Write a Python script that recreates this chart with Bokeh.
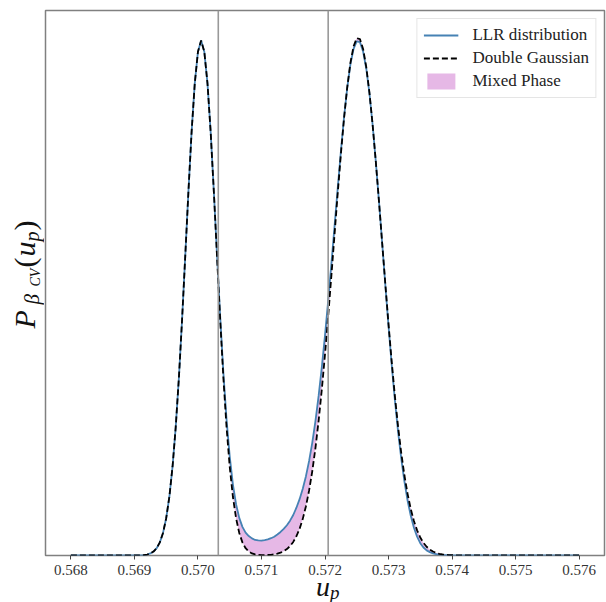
import math
from bokeh.plotting import figure
from bokeh.layouts import row, column
from bokeh.models import (Range1d, FixedTicker, Span, Label, Legend, LegendItem,
                          PrintfTickFormatter)
from bokeh.embed import file_html
from bokeh.resources import INLINE

# ---- data ----
u_p = [0.5680, 0.5685,
       0.56900, 0.56905, 0.56910, 0.56915, 0.56920, 0.56925, 0.56930, 0.56935, 0.56940, 0.56945,
       0.56950, 0.56955, 0.56960, 0.56965, 0.56970, 0.56975, 0.56980, 0.56985, 0.56990, 0.56995,
       0.57000, 0.57005, 0.57010, 0.57015, 0.57020, 0.57025, 0.57030, 0.57035, 0.57040, 0.57045,
       0.57050, 0.57055, 0.57060, 0.57065, 0.57070, 0.57075, 0.57080, 0.57085, 0.57090, 0.57095,
       0.57100, 0.57105, 0.57110, 0.57115, 0.57120, 0.57125, 0.57130, 0.57135, 0.57140, 0.57145,
       0.57150, 0.57155, 0.57160, 0.57165, 0.57170, 0.57175, 0.57180, 0.57185, 0.57190, 0.57195,
       0.57200, 0.57205, 0.57210, 0.57215, 0.57220, 0.57225, 0.57230, 0.57235, 0.57240, 0.57245,
       0.57250, 0.57255, 0.57260, 0.57265, 0.57270, 0.57275, 0.57280, 0.57285, 0.57290, 0.57295,
       0.57300, 0.57305, 0.57310, 0.57315, 0.57320, 0.57325, 0.57330, 0.57335, 0.57340, 0.57345,
       0.57350, 0.57355, 0.57360, 0.57365, 0.57370, 0.57375, 0.57380, 0.57385, 0.57390, 0.57395,
       0.57400,
       0.57410, 0.57430, 0.57500, 0.57600]

double_gaussian = [0.0, 0.0,
       0.0001, 0.0002, 0.0004, 0.0009, 0.0019, 0.0039, 0.0076, 0.0141, 0.0253, 0.0436,
       0.0720, 0.1134, 0.1714, 0.2479, 0.3432, 0.4552, 0.5778, 0.7025, 0.8177, 0.9114,
       0.9726, 0.9940, 0.9726, 0.9114, 0.8177, 0.7025, 0.5778, 0.4552, 0.3432, 0.2479,
       0.1714, 0.1134, 0.0720, 0.0436, 0.0253, 0.0141, 0.0076, 0.0040, 0.0020, 0.0011,
       0.0007, 0.0007, 0.0010, 0.0014, 0.0022, 0.0035, 0.0055, 0.0083, 0.0124, 0.0182,
       0.0262, 0.0372, 0.0517, 0.0707, 0.0951, 0.1256, 0.1630, 0.2079, 0.2605, 0.3208,
       0.3882, 0.4616, 0.5394, 0.6194, 0.6988, 0.7748, 0.8442, 0.9038, 0.9509, 0.9830,
       0.9986, 0.9969, 0.9778, 0.9426, 0.8928, 0.8310, 0.7600, 0.6831, 0.6033, 0.5236,
       0.4465, 0.3742, 0.3081, 0.2493, 0.1983, 0.1549, 0.1190, 0.0897, 0.0665, 0.0485,
       0.0347, 0.0244, 0.0169, 0.0115, 0.0077, 0.0050, 0.0032, 0.0021, 0.0013, 0.0008,
       0.0005,
       0.0002, 0.0, 0.0, 0.0]

llr_distribution = [0.0, 0.0,
       0.0001, 0.0002, 0.0004, 0.0009, 0.0019, 0.0039, 0.0076, 0.0141, 0.0253, 0.0436,
       0.0720, 0.1134, 0.1714, 0.2479, 0.3432, 0.4552, 0.5778, 0.7025, 0.8177, 0.9114,
       0.9726, 0.9940, 0.9726, 0.9114, 0.8177, 0.7025, 0.5808, 0.4612, 0.3532, 0.2629,
       0.1914, 0.1374, 0.0990, 0.0726, 0.0553, 0.0441, 0.0376, 0.0330, 0.0300, 0.0291,
       0.0287, 0.0297, 0.0310, 0.0334, 0.0362, 0.0405, 0.0455, 0.0513, 0.0584, 0.0672,
       0.0782, 0.0922, 0.1087, 0.1287, 0.1531, 0.1826, 0.2180, 0.2599, 0.3085, 0.3638,
       0.4252, 0.4916, 0.5624, 0.6354, 0.7088, 0.7798, 0.8462, 0.9028, 0.9479, 0.9780,
       0.9926, 0.9909, 0.9728, 0.9396, 0.8918, 0.8310, 0.7600, 0.6831, 0.6033, 0.5216,
       0.4425, 0.3682, 0.3001, 0.2393, 0.1873, 0.1429, 0.1060, 0.0767, 0.0535, 0.0365,
       0.0237, 0.0154, 0.0099, 0.0065, 0.0042, 0.0025, 0.0017, 0.0011, 0.0007, 0.0005,
       0.0003,
       0.0001, 0.0, 0.0, 0.0]

phase_bounds = [0.57032, 0.57205]
x_ticks = [0.568, 0.569, 0.570, 0.571, 0.572, 0.573, 0.574, 0.575, 0.576]

SERIF = "Liberation Serif"

# ---------------- main plot ----------------
p = figure(width=562, height=580, output_backend="svg", toolbar_location=None, title=None,
           x_range=Range1d(0.5676, 0.5764), y_range=Range1d(0, 1.052),
           min_border_left=1, min_border_right=2, min_border_top=10, min_border_bottom=25)
p.grid.visible = False
p.yaxis.visible = False
p.background_fill_color = "white"
p.border_fill_color = "white"
p.outline_line_color = "#808080"
p.outline_line_width = 1.5

ax = p.xaxis[0]
ax.ticker = FixedTicker(ticks=x_ticks)
ax.formatter = PrintfTickFormatter(format="%.3f")
ax.axis_line_color = None
ax.major_tick_line_color = "#444444"
ax.major_tick_out = 4
ax.major_tick_in = 0
ax.minor_tick_line_color = None
ax.major_label_text_font = SERIF
ax.major_label_text_font_size = "15px"
ax.major_label_text_color = "#333333"
ax.major_label_standoff = 5

fill = p.varea(x=u_p, y1=double_gaussian, y2=llr_distribution,
               fill_color="#DDA0DD", fill_alpha=0.75)
r_llr = p.line(u_p, llr_distribution, line_color="#4682B4", line_width=1.8)
r_dg = p.line(u_p, double_gaussian, line_color="black", line_width=1.8, line_dash="6 3")

for b in phase_bounds:
    p.add_layout(Span(location=b, dimension="height", line_color="#999999", line_width=1.6))

legend = Legend(items=[LegendItem(label="LLR distribution", renderers=[r_llr]),
                       LegendItem(label="Double Gaussian", renderers=[r_dg]),
                       LegendItem(label="Mixed Phase", renderers=[fill])],
                location="top_right", margin=8, padding=6, spacing=3,
                glyph_width=35, glyph_height=20, label_height=20, label_standoff=14,
                label_text_font=SERIF, label_text_font_size="17px",
                label_text_color="#222222",
                border_line_color="#cccccc", border_line_width=1,
                background_fill_alpha=0.85)
p.add_layout(legend)


def label_panel(width, height, x0):
    f = figure(width=width, height=height, output_backend="svg", toolbar_location=None,
               title=None,
               x_range=Range1d(x0, x0 + width), y_range=Range1d(0, height),
               x_axis_type=None, y_axis_type=None,
               min_border_left=0, min_border_right=0, min_border_top=0, min_border_bottom=0)
    f.outline_line_color = None
    f.background_fill_color = "white"
    f.border_fill_color = "white"
    return f


def piece(fig, txt, x, y, size, italic=True, angle=0.0):
    fig.add_layout(Label(x=x, y=y, text=txt,
                         text_font=SERIF, text_font_size=size,
                         text_font_style="italic" if italic else "normal",
                         text_color="#111111", angle=angle,
                         text_align="left", text_baseline="alphabetic"))


# y label panel: P_{beta_CV}(u_p), coordinates = page pixels (y from the bottom)
ylab = label_panel(44, 602, 0)
A = math.pi / 2
piece(ylab, "P", 24, 274, "30px", angle=A)
piece(ylab, "β", 31, 298, "21px", angle=A)
piece(ylab, "CV", 35, 316, "14px", angle=A)
piece(ylab, "(", 24, 335, "30px", italic=False, angle=A)
piece(ylab, "u", 24, 346, "30px", angle=A)
piece(ylab, "p", 31, 361, "20px", angle=A)
piece(ylab, ")", 24, 372, "30px", italic=False, angle=A)

# x label panel: u_p
xlab = label_panel(562, 22, 44)
piece(xlab, "u", 316, 16, "28px")
piece(xlab, "p", 330, 10, "19px")

layout = row(ylab, column(p, xlab, spacing=0), spacing=0)

open("out.html", "w").write(file_html(layout, INLINE))
